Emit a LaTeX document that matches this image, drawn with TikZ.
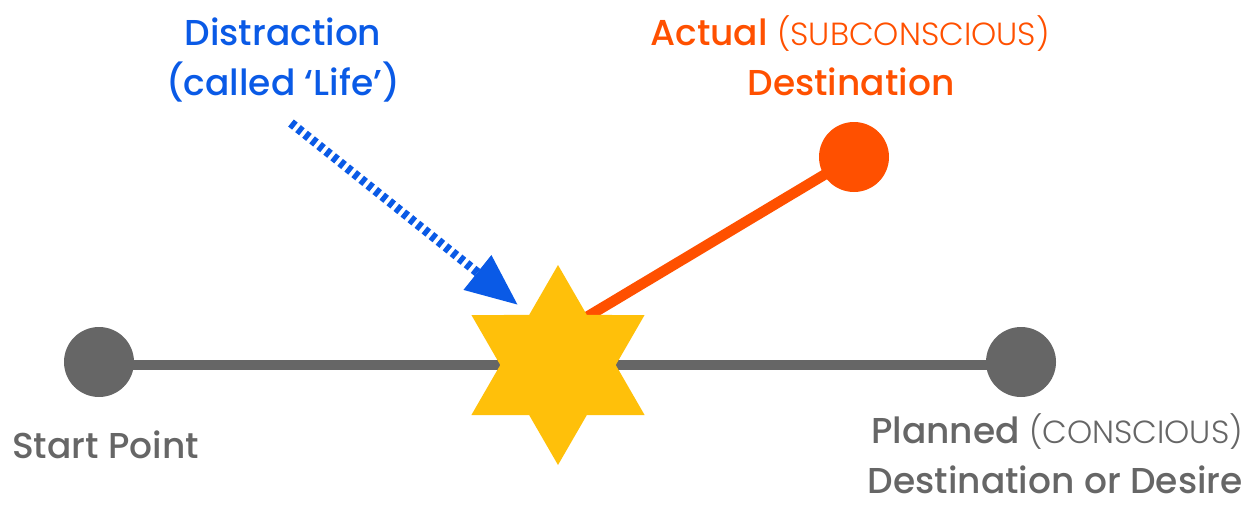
\documentclass[tikz,border=0pt]{standalone}
\usepackage{fontspec}
\setmainfont{Poppins}
\newfontfamily\pmed{Poppins Medium}
\newfontfamily\plight{Poppins Light}
\usetikzlibrary{shapes.geometric,arrows.meta}
\definecolor{cblue}{HTML}{0A5AE6}
\definecolor{corange}{HTML}{FF5000}
\definecolor{cyellow}{HTML}{FFC00A}
\definecolor{cgray}{HTML}{666666}
\pgfdeclarelayer{bg}
\pgfsetlayers{bg,main}
\newcommand{\lightpart}[1]{{\plight\fontsize{32}{40}\selectfont #1}}
\begin{document}
\begin{tikzpicture}[x=1pt,y=-1pt,
  dot/.style={circle,inner sep=0pt,minimum size=70pt,draw=none},
  lbl/.style={font=\pmed\fontsize{36}{40}\selectfont,inner sep=0pt,anchor=base},
  path line/.style={line width=10.5pt},
  hexstar/.style={star,star points=6,star point ratio=1.732,minimum size=200pt,inner sep=0pt,fill=cyellow,draw=none}]
\useasboundingbox (0,0) rectangle (1247,506);
% nodes
\node[dot,fill=cgray] (start) at (99,362) {};
\node[dot,fill=cgray] (end) at (1021,362) {};
\node[dot,fill=corange] (adot) at (854,157) {};
\node[hexstar] (star) at (558,365) {};
\coordinate (ostart) at (560,333);
\coordinate (dtail) at (291,123);
\coordinate (dtip) at (518,305);
% connectors
\begin{pgfonlayer}{bg}
\draw[cgray,path line] ([yshift=-3pt]start.center) -- ([yshift=-3pt]end.center);
\draw[corange,path line] (ostart) -- (adot.center);
\end{pgfonlayer}
\draw[cblue,line width=9pt,dash pattern=on 5pt off 4pt,-{Triangle[length=52pt,width=42pt]}] (dtail) -- (dtip);
% labels
\node[lbl,text=cblue] (dist1) at (283,45) {Distraction};
\node[lbl,text=cblue] (dist2) at (283,95) {(called ‘Life’)};
\node[lbl,text=corange] (act1) at (850,45) {Actual \lightpart{(SUBCONSCIOUS)}};
\node[lbl,text=corange] (act2) at (851,95) {Destination};
\node[lbl,text=cgray,anchor=base west] (startlbl) at (12,458) {Start Point};
\node[lbl,text=cgray,anchor=base east] (plan1) at (1243,443) {Planned \lightpart{(CONSCIOUS)}};
\node[lbl,text=cgray,anchor=base east] (plan2) at (1243,493) {Destination or Desire};
\end{tikzpicture}
\end{document}
